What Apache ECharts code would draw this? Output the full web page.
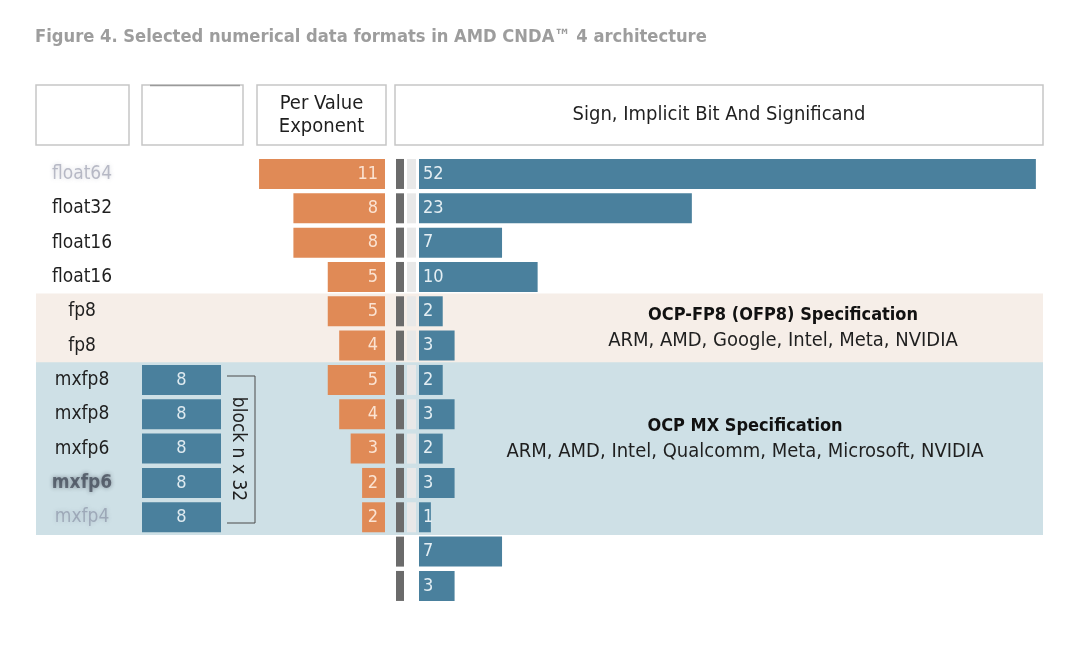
<!DOCTYPE html>
<html>
<head>
<meta charset="utf-8">
<script src="https://cdn.jsdelivr.net/npm/echarts@6/dist/echarts.min.js"></script>
<style>html,body{margin:0;padding:0;background:#fff;}#c{width:1080px;height:660px;}</style>
</head>
<body>
<div id="c"></div>
<script>
// ---- data ----
const rowLabels = ['float64','float32','float16','float16','fp8','fp8','mxfp8','mxfp8','mxfp6','mxfp6','mxfp4','int8','int4'];
const labelStyle = ['blurL','n','n','n','n','n','n','n','n','blurD','blurL','hide','hide'];
const sharedExponent = [null,null,null,null,null,null,8,8,8,8,8,null,null];
const exponentBits = [11,8,8,5,5,4,5,4,3,2,2,null,null];
const signBits = [1,1,1,1,1,1,1,1,1,1,1,1,1];
const implicitBits = [1,1,1,1,1,1,1,1,1,1,1,null,null];
const significandBits = [52,23,7,10,2,3,2,3,2,3,1,7,3];
const specGroup = ['','','','','ofp8','ofp8','mx','mx','mx','mx','mx','',''];
const headers = ['', '', 'Per Value\nExponent', 'Sign, Implicit Bit And Significand'];
const specTexts = [
  {title: 'OCP-FP8 (OFP8) Specification', members: 'ARM, AMD, Google, Intel, Meta, NVIDIA'},
  {title: 'OCP MX Specification', members: 'ARM, AMD, Intel, Qualcomm, Meta, Microsoft, NVIDIA'}
];
const blockLabel = 'block n x 32';
const titleText = 'Figure 4. Selected numerical data formats in AMD CNDA\u2122 4 architecture';

// ---- style ----
const FONT = 'DejaVu Sans Condensed';
const ORANGE = '#e08a56';
const BLUE = '#4a809d';
const DARK = '#6b6b6b';
const LIGHT = '#e8e8e8';
const bandColor = {ofp8: '#f6eee8', mx: '#cee0e6', '': 'rgba(0,0,0,0)'};
const TOP = 156.8, H = 446.3;
const keys = rowLabels.map((_, i) => 'r' + i);

const chart = echarts.init(document.getElementById('c'), null, {renderer: 'canvas'});

const gridDefs = [
  {left: 36, width: 1007},      // 0 background bands
  {left: 142, width: 79},       // 1 shared exponent
  {left: 247.6, width: 137.4},  // 2 exponent
  {left: 396, width: 8},        // 3 sign
  {left: 407, width: 9},        // 4 implicit
  {left: 419, width: 624}       // 5 significand
];
const grid = gridDefs.map(g => ({left: g.left, width: g.width, top: TOP, height: H, containLabel: false}));
const xMax = [1, 8, 12, 1, 1, 52.6];
const xAxis = gridDefs.map((g, i) => ({
  type: 'value', gridIndex: i, min: 0, max: xMax[i], inverse: i === 2,
  show: false, splitLine: {show: false}
}));
const yAxis = gridDefs.map((g, i) => ({
  type: 'category', gridIndex: i, data: keys, inverse: true,
  axisLine: {show: false}, axisTick: {show: false}, splitLine: {show: false},
  axisLabel: i === 1 ? {
    show: true, margin: 60, align: 'center',
    formatter: (v, idx) => {
      const s = labelStyle[idx];
      if (s === 'hide') return '';
      return '{' + s + '|' + rowLabels[idx] + '}';
    },
    rich: {
      n: {fontFamily: FONT, fontSize: 19, color: '#1f1f1f'},
      blurL: {fontFamily: FONT, fontSize: 19, color: 'rgba(110,115,140,0.45)', textShadowColor: 'rgba(110,115,140,0.6)', textShadowBlur: 4},
      blurD: {fontFamily: FONT, fontSize: 19, fontWeight: 'bold', color: 'rgba(40,45,60,0.6)', textShadowColor: 'rgba(40,45,60,0.8)', textShadowBlur: 4}
    }
  } : {show: false}
}));

const series = [
  {
    type: 'bar', xAxisIndex: 0, yAxisIndex: 0, z: 0, barWidth: 35.4,
    silent: true,
    data: specGroup.map(g => ({value: g ? 1 : 0, itemStyle: {color: bandColor[g]}}))
  },
  {
    type: 'bar', xAxisIndex: 1, yAxisIndex: 1, z: 2, barWidth: 30,
    itemStyle: {color: BLUE},
    label: {show: true, position: 'inside', color: '#dfeaf0', fontFamily: FONT, fontSize: 18},
    data: sharedExponent
  },
  {
    type: 'bar', xAxisIndex: 2, yAxisIndex: 2, z: 2, barWidth: 30,
    itemStyle: {color: ORANGE},
    label: {show: true, position: 'insideRight', distance: 7, color: '#fbe3d2', fontFamily: FONT, fontSize: 18},
    data: exponentBits
  },
  {
    type: 'bar', xAxisIndex: 3, yAxisIndex: 3, z: 2, barWidth: 30,
    itemStyle: {color: DARK}, data: signBits
  },
  {
    type: 'bar', xAxisIndex: 4, yAxisIndex: 4, z: 2, barWidth: 30,
    itemStyle: {color: LIGHT}, data: implicitBits
  },
  {
    type: 'bar', xAxisIndex: 5, yAxisIndex: 5, z: 2, barWidth: 30,
    itemStyle: {color: BLUE},
    label: {show: true, position: 'insideLeft', distance: 4, color: '#e4eef3', fontFamily: FONT, fontSize: 18},
    data: significandBits
  }
];

const boxes = [[36, 85, 93, 60], [142, 85, 101, 60], [257, 85, 129, 60], [395, 85, 648, 60]];
const graphic = [
  {type: 'text', left: 35, top: 28, style: {text: titleText, fontFamily: FONT, fontWeight: 'bold', fontSize: 18.2, fill: '#9d9d9d'}}
];
boxes.forEach((b, i) => {
  graphic.push({type: 'rect', shape: {x: b[0], y: b[1], width: b[2], height: b[3]}, style: {fill: '#fff', stroke: '#c6c6c6', lineWidth: 1.5}, z: 1});
  if (headers[i]) graphic.push({type: 'text', x: b[0] + b[2] / 2, y: b[1] + b[3] / 2, z: 2,
    style: {text: headers[i], align: 'center', verticalAlign: 'middle', fontFamily: FONT, fontSize: 20, lineHeight: 23, fill: '#1f1f1f'}});
});
graphic.push({type: 'line', z: 2, shape: {x1: 150, y1: 85.5, x2: 240, y2: 85.5}, style: {stroke: '#9a9a9a', lineWidth: 1.5}});
// spec annotations
[[783, 315, 341], [745, 426, 452]].forEach((p, i) => {
  graphic.push({type: 'text', x: p[0], y: p[1], z: 5, style: {text: specTexts[i].title, align: 'center', verticalAlign: 'middle', fontFamily: FONT, fontWeight: 'bold', fontSize: 18, fill: '#111'}});
  graphic.push({type: 'text', x: p[0], y: p[2], z: 5, style: {text: specTexts[i].members, align: 'center', verticalAlign: 'middle', fontFamily: FONT, fontSize: 20, fill: '#1f1f1f'}});
});
// block bracket
graphic.push({type: 'polyline', z: 5, shape: {points: [[227, 376], [255, 376], [255, 523], [227, 523]]}, style: {stroke: '#4a4a4a', lineWidth: 1, fill: null}});
graphic.push({type: 'text', x: 238, y: 449, rotation: -Math.PI / 2, z: 5, style: {text: blockLabel, align: 'center', verticalAlign: 'middle', fontFamily: FONT, fontSize: 19, fill: '#1f1f1f'}});

chart.setOption({
  animation: false,
  backgroundColor: '#ffffff',
  grid, xAxis, yAxis, series, graphic
});
</script>
</body>
</html>
